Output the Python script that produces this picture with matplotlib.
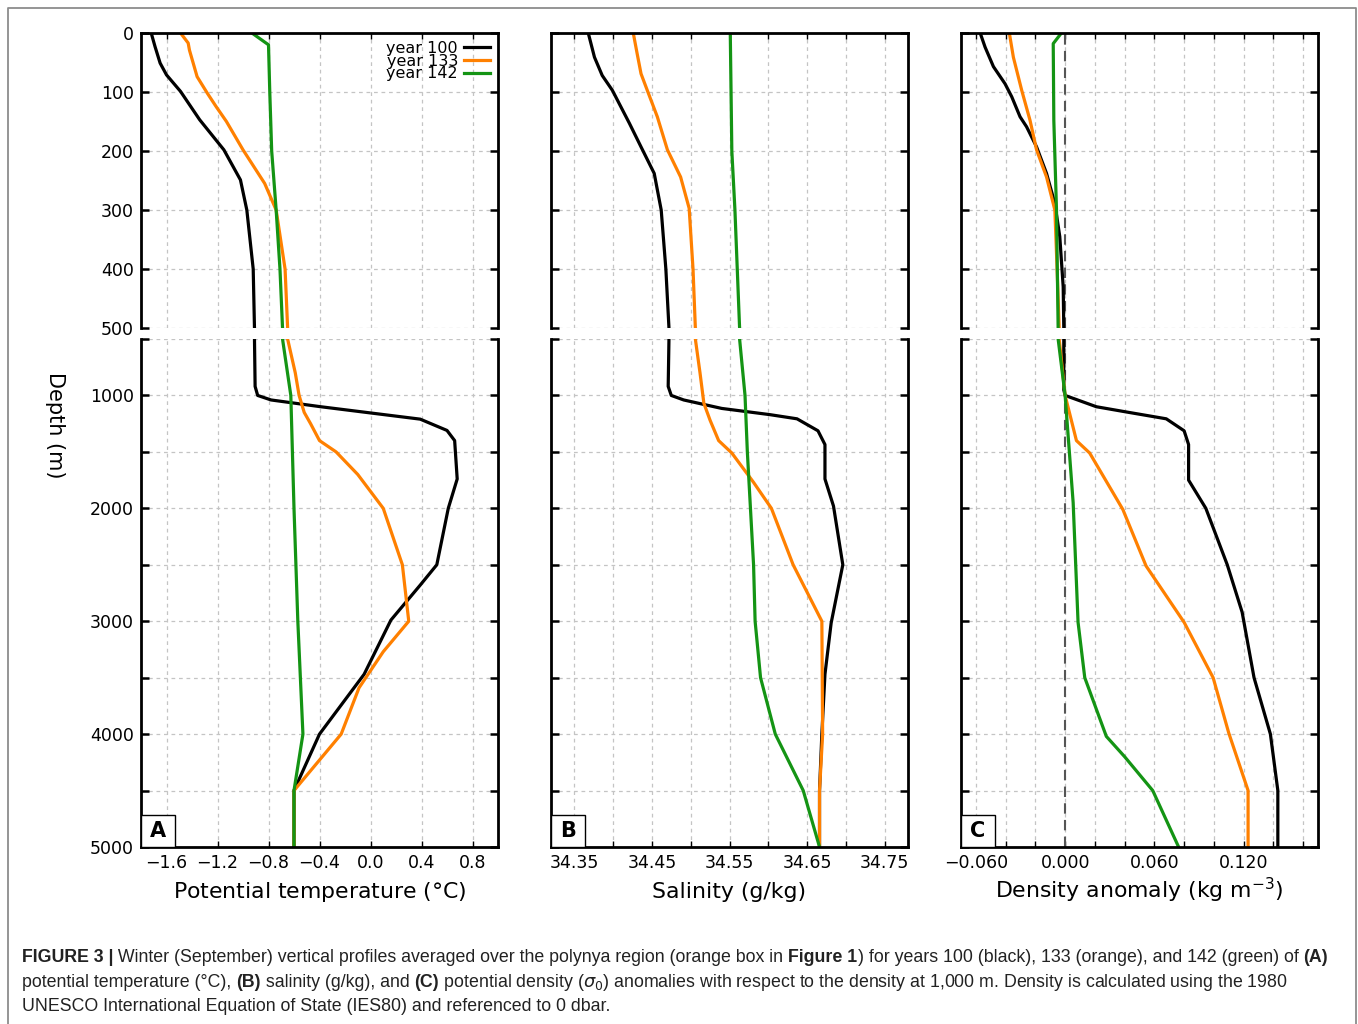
import numpy as np
import matplotlib.pyplot as plt
from matplotlib.patches import Rectangle
from matplotlib.lines import Line2D

plt.rcParams['font.family'] = ['DejaVu Sans']

# Profundidades e perfis (ano 100, 133, 142)
prof_t100 = [0, 23, 51, 71, 99, 147, 198, 249, 300, 400, 500, 920, 1000, 1040, 1100, 1155,
             1210, 1310, 1400, 1740, 2000, 2500, 2680, 2990, 3470, 4000, 4500, 5000]
temp_100 = [-1.72, -1.69, -1.65, -1.60, -1.49, -1.34, -1.15, -1.02, -0.97, -0.92, -0.91, -0.905,
            -0.885, -0.78, -0.39, 0.0, 0.39, 0.60, 0.66, 0.68, 0.61, 0.52, 0.39, 0.16, -0.05,
            -0.40, -0.60, -0.60]
prof_t133 = [0, 17, 29, 74, 102, 125, 150, 198, 255, 300, 400, 500, 800, 1000, 1150, 1250,
             1400, 1500, 1700, 2000, 2500, 3000, 3270, 3590, 4000, 4500, 5000]
temp_133 = [-1.49, -1.43, -1.42, -1.36, -1.28, -1.21, -1.13, -1.00, -0.83, -0.74, -0.67, -0.65,
            -0.59, -0.56, -0.52, -0.47, -0.40, -0.27, -0.10, 0.10, 0.25, 0.30, 0.10, -0.09,
            -0.23, -0.60, -0.60]
prof_t142 = [0, 20, 100, 200, 300, 400, 500, 1000, 2000, 3000, 4000, 4500, 5000]
temp_142 = [-0.93, -0.80, -0.79, -0.775, -0.74, -0.71, -0.69, -0.625, -0.60, -0.57, -0.53,
            -0.60, -0.60]

prof_s100 = [0, 41, 72, 97, 125, 153, 193, 238, 300, 400, 500, 920, 1000, 1040, 1115, 1170,
             1207, 1313, 1435, 1740, 1980, 2500, 3015, 3470, 4000, 4500, 5000]
sal_100 = [34.368, 34.376, 34.386, 34.399, 34.410, 34.421, 34.436, 34.453, 34.462, 34.468,
           34.472, 34.471, 34.475, 34.491, 34.540, 34.602, 34.637, 34.664, 34.673, 34.673,
           34.684, 34.696, 34.681, 34.673, 34.669, 34.666, 34.666]
prof_s133 = [0, 35, 69, 97, 142, 198, 244, 297, 400, 500, 800, 1070, 1220, 1400, 1510, 1770,
             2000, 2500, 3000, 4000, 4500, 5000]
sal_133 = [34.426, 34.431, 34.436, 34.444, 34.457, 34.470, 34.487, 34.498, 34.503, 34.506,
           34.512, 34.517, 34.525, 34.536, 34.553, 34.581, 34.604, 34.632, 34.669, 34.670,
           34.666, 34.666]
prof_s142 = [0, 200, 300, 500, 1000, 1500, 2000, 2500, 3000, 3500, 4000, 4500, 5000]
sal_142 = [34.551, 34.553, 34.557, 34.563, 34.570, 34.573, 34.577, 34.581, 34.583, 34.590,
           34.609, 34.645, 34.666]

prof_d100 = [0, 24, 57, 86, 108, 142, 159, 193, 238, 289, 345, 430, 500, 950, 1000, 1100,
             1146, 1207, 1313, 1435, 1750, 2000, 2500, 2920, 3500, 4000, 4500, 5000]
dens_100 = [-0.0571, -0.0538, -0.0482, -0.0404, -0.0359, -0.0303, -0.0259, -0.0192, -0.0125,
            -0.0069, -0.0036, -0.0013, -0.0009, -0.0009, 0.0, 0.021, 0.041, 0.068, 0.080,
            0.083, 0.083, 0.0946, 0.109, 0.119, 0.127, 0.138, 0.143, 0.143]
prof_d133 = [0, 41, 97, 148, 198, 244, 300, 400, 500, 1000, 1400, 1510, 2010, 2510, 3010,
             3500, 3990, 4500, 5000]
dens_133 = [-0.0375, -0.0348, -0.0292, -0.0236, -0.0192, -0.0125, -0.0069, -0.0054, -0.0040,
            0.0, 0.0076, 0.0165, 0.0388, 0.0544, 0.080, 0.0995, 0.110, 0.123, 0.123]
prof_d142 = [0, 18, 148, 300, 500, 1000, 1950, 3010, 3500, 4020, 4200, 4500, 5000]
dens_142 = [-0.0025, -0.0080, -0.0076, -0.0058, -0.0047, 0.0, 0.0054, 0.0087, 0.0132, 0.0277,
            0.040, 0.0589, 0.0763]

anos = ['year 100', 'year 133', 'year 142']
cores = ['#000000', '#ff8000', '#149414']

W, H = 1358, 1024


def caixa(esq, topo, larg, alt):
    # posição em pixels -> fração da figura
    return [esq / W, 1 - (topo + alt) / H, larg / W, alt / H]


def painel(fig, esq, perfis, xlim, xmaj, xmin, xrot, letra, xlabel, rotulos_y=False, zero=False, pad=7):
    sup = fig.add_axes(caixa(esq, 33, 357, 295))
    inf = fig.add_axes(caixa(esq, 339, 357, 508))

    for ax in (sup, inf):
        for (prof, val), cor, ano in zip(perfis, cores, anos):
            ax.plot(val, prof, color=cor, lw=2.3, label=ano, solid_joinstyle='round')
        if zero:
            ax.axvline(0, color='#555555', lw=1.5, linestyle=(0, (5, 3)), zorder=1)
        ax.set_xlim(*xlim)
        ax.set_xticks(xmaj)
        ax.set_xticks(xmin, minor=True)
        ax.grid(True, which='both', color='#c4c4c4', lw=0.9, linestyle=(0, (3, 3)))
        ax.set_axisbelow(True)
        for s in ax.spines.values():
            s.set_linewidth(2)
        ax.tick_params(which='both', direction='in', left=True, right=True,
                       length=6, width=1.8, labelsize=12.5, pad=5)

    # parte de cima: 0-500 m
    sup.set_ylim(500, 0)
    sup.set_yticks(np.arange(0, 501, 100))
    sup.spines['bottom'].set_visible(False)
    sup.tick_params(axis='x', which='both', top=True, bottom=False, labelbottom=False, length=4, width=1)

    # parte de baixo: 500-5000 m
    inf.set_ylim(5000, 500)
    inf.set_yticks(np.arange(1000, 5001, 1000))
    inf.set_yticks(np.arange(500, 5000, 1000), minor=True)
    inf.spines['top'].set_visible(False)
    inf.tick_params(axis='x', which='both', top=False, bottom=True, length=4, width=1)
    inf.set_xticklabels(xrot)
    inf.set_xlabel(xlabel, fontsize=15.8, labelpad=pad)

    if not rotulos_y:
        sup.tick_params(axis='y', labelleft=False)
        inf.tick_params(axis='y', which='both', labelleft=False)

    # letra do painel no canto inferior esquerdo
    inf.add_patch(Rectangle((0, 0), 34 / 357, 32 / 508, transform=inf.transAxes,
                            fc='white', ec='black', lw=1, zorder=5))
    inf.text(17 / 357, 16 / 508, letra, transform=inf.transAxes, ha='center', va='center',
             fontsize=15, fontweight='bold', zorder=6)
    return sup, inf


fig = plt.figure(figsize=(W / 100, H / 100), dpi=100)

supA, infA = painel(fig, 141, [(prof_t100, temp_100), (prof_t133, temp_133), (prof_t142, temp_142)],
                    (-1.8, 1.0), np.arange(-1.6, 0.81, 0.4), [],
                    ['\u22121.6', '\u22121.2', '\u22120.8', '\u22120.4', '0.0', '0.4', '0.8'],
                    'A', 'Potential temperature ($\\degree$C)', rotulos_y=True, pad=6)
painel(fig, 551, [(prof_s100, sal_100), (prof_s133, sal_133), (prof_s142, sal_142)],
       (34.32, 34.78), np.arange(34.35, 34.76, 0.1), np.arange(34.40, 34.76, 0.1),
       ['34.35', '34.45', '34.55', '34.65', '34.75'], 'B', 'Salinity (g/kg)', pad=7)
painel(fig, 961, [(prof_d100, dens_100), (prof_d133, dens_133), (prof_d142, dens_142)],
       (-0.07, 0.17), np.arange(-0.06, 0.121, 0.06), np.arange(-0.04, 0.161, 0.02),
       ['\u22120.060', '0.000', '0.060', '0.120'], 'C', 'Density anomaly (kg m$^{-3}$)',
       zero=True, pad=3)

supA.legend(loc='upper right', frameon=False, markerfirst=False, fontsize=11.5,
            labelspacing=-0.15, handlelength=1.6, handletextpad=0.4, borderaxespad=0.1)

fig.text(55 / W, 1 - 425 / H, 'Depth (m)', rotation=270, ha='center', va='center', fontsize=15)

# moldura cinza em volta da figura
fig.add_artist(Line2D([8 / W, 8 / W, 1356 / W, 1356 / W], [-0.02, 1 - 8 / H, 1 - 8 / H, -0.02],
                      transform=fig.transFigure, color='#8c8c8c', lw=1.3))

# legenda da figura, com trechos em negrito
linhas = [
    [('FIGURE 3 |', True), (' Winter (September) vertical profiles averaged over the polynya region (orange box in ', False),
     ('Figure 1', True), (') for years 100 (black), 133 (orange), and 142 (green) of ', False), ('(A)', True)],
    [('potential temperature (\u00b0C), ', False), ('(B)', True), (' salinity (g/kg), and ', False), ('(C)', True),
     (' potential density ($\\sigma_0$) anomalies with respect to the density at 1,000 m. Density is calculated using the 1980', False)],
    [('UNESCO International Equation of State (IES80) and referenced to 0 dbar.', False)],
]
r = fig.canvas.get_renderer()
for partes, y in zip(linhas, [962, 987, 1011]):
    x = 22
    for texto, negrito in partes:
        peso = 'bold' if negrito else 'normal'
        kw = dict(fontsize=12.8, fontweight=peso, family='Liberation Sans', va='baseline', color='#222222')
        fig.text(x / W, 1 - y / H, texto, **kw)
        # largura medida com um marcador para contar os espaços das pontas
        t1 = fig.text(0, 0, '|' + texto + '|', **kw)
        t2 = fig.text(0, 0, '||', **kw)
        x += t1.get_window_extent(renderer=r).width - t2.get_window_extent(renderer=r).width
        t1.remove()
        t2.remove()

fig.savefig('out.png', dpi=100)
